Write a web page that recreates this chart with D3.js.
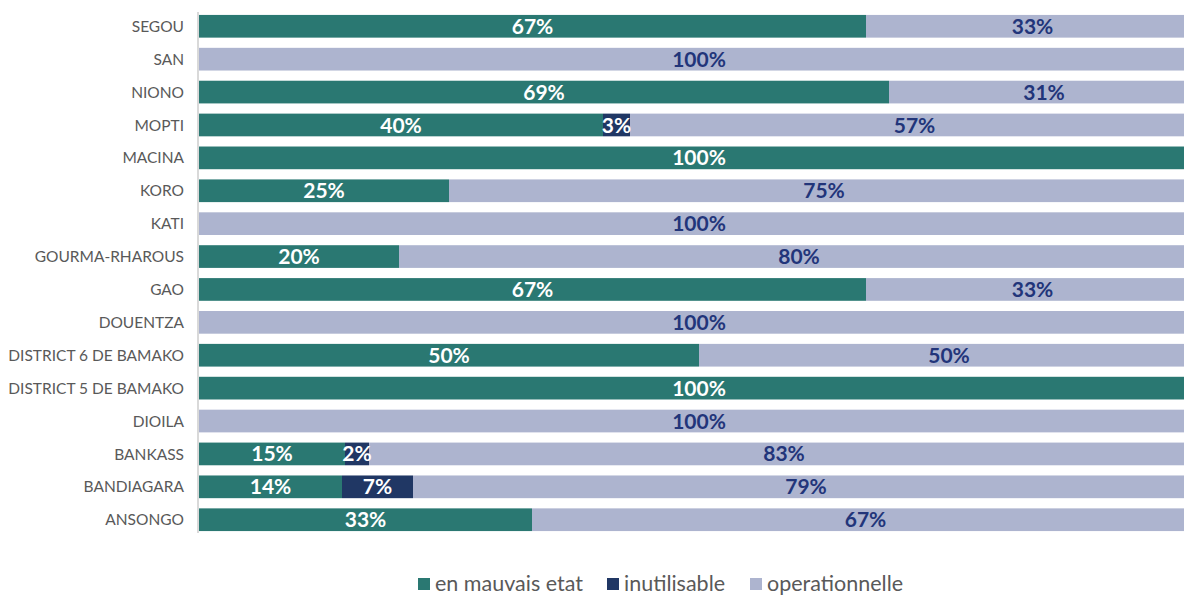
<!DOCTYPE html>
<html>
<head>
<meta charset="utf-8">
<script src="https://cdn.jsdelivr.net/npm/d3@7"></script>
<style>
  body { margin: 0; background: #fff; }
  svg { display: block; }
  .cat { font-family: Lato, "Open Sans", sans-serif; font-size: 15.5px; fill: #595959; }
  .val { font-family: Lato, "Open Sans", sans-serif; font-size: 21px; font-weight: 700; }
  .leg { font-family: Lato, "Open Sans", sans-serif; font-size: 21.5px; fill: #595959; }
</style>
</head>
<body>
<script>
(function(){
  // data (share of each district, in %)
  var districts = ["SEGOU", "SAN", "NIONO", "MOPTI", "MACINA", "KORO", "KATI", "GOURMA-RHAROUS",
                   "GAO", "DOUENTZA", "DISTRICT 6 DE BAMAKO", "DISTRICT 5 DE BAMAKO", "DIOILA",
                   "BANKASS", "BANDIAGARA", "ANSONGO"];
  var mauvais = [66.7, 0, 69.0, 40.4, 100, 25, 0, 20, 66.7, 0, 50, 100, 0, 14.6, 14.3, 33.3];
  var inutilisable = [0, 0, 0, 2.7, 0, 0, 0, 0, 0, 0, 0, 0, 0, 2.4, 7.1, 0];
  var operationnelle = [33.3, 100, 31.0, 56.9, 0, 75, 100, 80, 33.3, 100, 50, 0, 100, 83.0, 78.6, 66.7];
  var seriesNames = ["en mauvais etat", "inutilisable", "operationnelle"];

  var colors = ["#2a7872", "#203764", "#adb4cf"];
  var textColors = ["#ffffff", "#ffffff", "#22357a"];

  var width = 1184, height = 598;
  var svg = d3.select("body").append("svg")
    .attr("width", width)
    .attr("height", height);

  // build rows for stacking
  var rows = districts.map(function(d, i){
    return { name: d, s0: mauvais[i], s1: inutilisable[i], s2: operationnelle[i] };
  });
  var stack = d3.stack().keys(["s0", "s1", "s2"]);
  var layers = stack(rows);

  // plot runs past the right edge of the window, like the original
  var x = d3.scaleLinear().domain([0, 100]).range([199, 1199]);
  var y = d3.scaleBand().domain(districts).range([10, 536]).paddingInner(0.31).paddingOuter(0.15);

  // bars
  var groups = svg.selectAll(".layer")
    .data(layers)
    .enter()
    .append("g")
    .attr("class", "layer")
    .attr("fill", function(d, i){ return colors[i]; });

  groups.selectAll("rect")
    .data(function(d){ return d.filter(function(p){ return p[1] - p[0] > 0; }); })
    .enter()
    .append("rect")
    .attr("x", function(p){ return x(p[0]); })
    .attr("y", function(p){ return y(p.data.name); })
    .attr("width", function(p){ return x(p[1]) - x(p[0]); })
    .attr("height", y.bandwidth());

  // value labels
  var fmt = function(v){ return Math.round(v) + "%"; };
  layers.forEach(function(layer, i){
    svg.selectAll(".val" + i)
      .data(layer.filter(function(p){ return p[1] - p[0] > 0; }))
      .enter()
      .append("text")
      .attr("class", "val val" + i)
      .attr("fill", textColors[i])
      .attr("text-anchor", "middle")
      .attr("x", function(p){ return (x(p[0]) + x(p[1])) / 2; })
      .attr("y", function(p){ return y(p.data.name) + y.bandwidth() / 2; })
      .attr("dy", "0.36em")
      .text(function(p){ return fmt(p[1] - p[0]); });
  });

  // category labels
  svg.selectAll(".cat")
    .data(districts)
    .enter()
    .append("text")
    .attr("class", "cat")
    .attr("text-anchor", "end")
    .attr("x", 184)
    .attr("y", function(d){ return y(d) + y.bandwidth() / 2; })
    .attr("dy", "0.36em")
    .text(function(d){ return d; });

  // vertical axis line
  svg.append("line")
    .attr("x1", 198).attr("x2", 198)
    .attr("y1", 12).attr("y2", 533)
    .attr("stroke", "#d9d9d9")
    .attr("stroke-width", 2);

  // legend
  var legendX = [418, 607, 750];
  var legend = svg.selectAll(".legItem")
    .data(seriesNames)
    .enter()
    .append("g")
    .attr("class", "legItem")
    .attr("transform", function(d, i){ return "translate(" + legendX[i] + ",578)"; });

  legend.append("rect")
    .attr("width", 12).attr("height", 12)
    .attr("fill", function(d, i){ return colors[i]; });

  legend.append("text")
    .attr("class", "leg")
    .attr("x", 17)
    .attr("y", 6)
    .attr("dy", "0.32em")
    .text(function(d){ return d; });
})();
</script>
</body>
</html>
